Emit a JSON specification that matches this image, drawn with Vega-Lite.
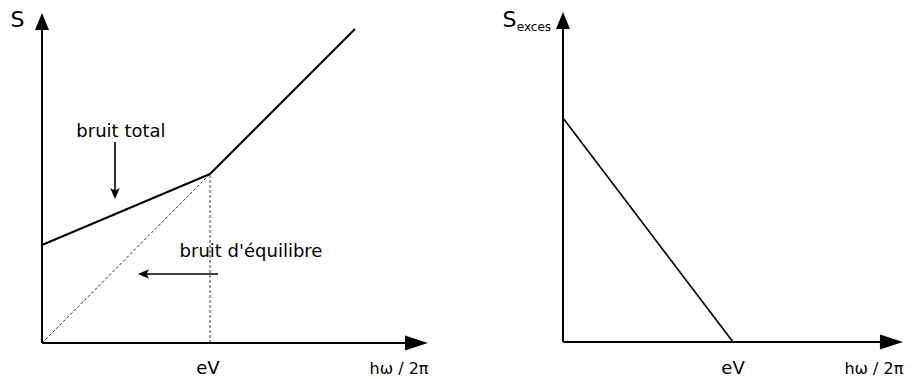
{
  "$schema": "https://vega.github.io/schema/vega-lite/v6.json",
  "width": 919,
  "height": 379,
  "padding": 0,
  "autosize": {"type": "none"},
  "background": "white",
  "config": {"view": {"stroke": null}, "text": {"font": "DejaVu Sans", "color": "black"}},
  "datasets": {
    "leftSegs": [
      {"kind": "axis", "x": 0, "y": 0, "x2": 2.161, "y2": 0},
      {"kind": "axis", "x": 0, "y": 0, "x2": 0, "y2": 1.852},
      {"kind": "curve", "x": 0, "y": 0.58, "x2": 1, "y2": 1},
      {"kind": "curve", "x": 1, "y": 1, "x2": 1.863, "y2": 1.858},
      {"kind": "guide", "x": 0, "y": 0, "x2": 1, "y2": 1},
      {"kind": "guide", "x": 1, "y": 0, "x2": 1, "y2": 1},
      {"kind": "pointer", "x": 0.4345, "y": 1.189, "x2": 0.4345, "y2": 0.885},
      {"kind": "pointer", "x": 1.048, "y": 0.408, "x2": 0.604, "y2": 0.408}
    ],
    "leftHeads": [
      {"head": "up", "x": 0, "y": 1.902},
      {"head": "right", "x": 2.229, "y": 0},
      {"head": "down", "x": 0.4345, "y": 0.885},
      {"head": "left", "x": 0.604, "y": 0.408}
    ],
    "leftText": [
      {"role": "title", "label": "S", "x": -0.146, "y": 1.911},
      {"role": "note", "label": "bruit total", "x": 0.47, "y": 1.249},
      {"role": "note", "label": "bruit d'équilibre", "x": 1.244, "y": 0.538},
      {"role": "note", "label": "eV", "x": 0.988, "y": -0.154},
      {"role": "unit", "label": "hω / 2π", "x": 2.125, "y": -0.154}
    ],
    "rightSegs": [
      {"kind": "axis", "x": 0, "y": 0, "x2": 1.865, "y2": 0},
      {"kind": "axis", "x": 0, "y": 0, "x2": 0, "y2": 1.397},
      {"kind": "curve", "x": 0, "y": 1, "x2": 1, "y2": 0}
    ],
    "rightHeads": [
      {"head": "up", "x": 0, "y": 1.435},
      {"head": "right", "x": 1.932, "y": 0}
    ],
    "rightText": [
      {"role": "title", "label": "S", "x": -0.315, "y": 1.4375},
      {"role": "sub", "label": "exces", "x": -0.171, "y": 1.405},
      {"role": "note", "label": "eV", "x": 1.0, "y": -0.1205},
      {"role": "unit", "label": "hω / 2π", "x": 1.829, "y": -0.1205}
    ]
  },
  "layer": [
    {
      "encoding": {
        "x": {"field": "x", "type": "quantitative", "axis": null, "scale": {"domain": [-0.25, 5.2202], "nice": false, "zero": false}},
        "y": {"field": "y", "type": "quantitative", "axis": null, "scale": {"domain": [-0.213, 2.0296], "nice": false, "zero": false}}
      },
      "layer": [
        {
          "data": {"name": "leftSegs"},
          "transform": [{"filter": "datum.kind == 'guide'"}],
          "mark": {"type": "rule", "color": "#333", "strokeWidth": 1, "strokeDash": [3, 2]},
          "encoding": {"x2": {"field": "x2"}, "y2": {"field": "y2"}}
        },
        {
          "data": {"name": "leftSegs"},
          "transform": [{"filter": "datum.kind == 'axis'"}],
          "mark": {"type": "rule", "color": "black", "strokeWidth": 2},
          "encoding": {"x2": {"field": "x2"}, "y2": {"field": "y2"}}
        },
        {
          "data": {"name": "leftSegs"},
          "transform": [{"filter": "datum.kind == 'curve'"}],
          "mark": {"type": "rule", "color": "black", "strokeWidth": 2},
          "encoding": {"x2": {"field": "x2"}, "y2": {"field": "y2"}}
        },
        {
          "data": {"name": "leftSegs"},
          "transform": [{"filter": "datum.kind == 'pointer'"}],
          "mark": {"type": "rule", "color": "black", "strokeWidth": 1.6},
          "encoding": {"x2": {"field": "x2"}, "y2": {"field": "y2"}}
        },
        {
          "data": {"name": "leftHeads"},
          "transform": [{"filter": "datum.head == 'up'"}],
          "mark": {"type": "point", "filled": true, "color": "black", "opacity": 1, "size": 324, "shape": "M0,-0.944L0.778,0.944L-0.778,0.944Z"}
        },
        {
          "data": {"name": "leftHeads"},
          "transform": [{"filter": "datum.head == 'right'"}],
          "mark": {"type": "point", "filled": true, "color": "black", "opacity": 1, "size": 576, "shape": "M0.958,0L-0.958,0.625L-0.958,-0.625Z"}
        },
        {
          "data": {"name": "leftHeads"},
          "transform": [{"filter": "datum.head == 'down'"}],
          "mark": {"type": "point", "filled": true, "color": "black", "opacity": 1, "size": 144, "shape": "M0,0.92L-0.8,-0.92L0,-0.5L0.8,-0.92Z"}
        },
        {
          "data": {"name": "leftHeads"},
          "transform": [{"filter": "datum.head == 'left'"}],
          "mark": {"type": "point", "filled": true, "color": "black", "opacity": 1, "size": 144, "shape": "M-0.92,0L0.92,-0.8L0.5,0L0.92,0.8Z"}
        },
        {
          "data": {"name": "leftText"},
          "transform": [{"filter": "datum.role == 'title'"}],
          "mark": {"type": "text", "fontSize": 22, "align": "center", "baseline": "middle"},
          "encoding": {"text": {"field": "label"}}
        },
        {
          "data": {"name": "leftText"},
          "transform": [{"filter": "datum.role == 'note'"}],
          "mark": {"type": "text", "fontSize": 18, "align": "center", "baseline": "middle"},
          "encoding": {"text": {"field": "label"}}
        },
        {
          "data": {"name": "leftText"},
          "transform": [{"filter": "datum.role == 'unit'"}],
          "mark": {"type": "text", "fontSize": 16, "align": "center", "baseline": "middle"},
          "encoding": {"text": {"field": "label"}}
        }
      ]
    },
    {
      "encoding": {
        "x": {"field": "x", "type": "quantitative", "axis": null, "scale": {"domain": [-3.3118, 2.0941], "nice": false, "zero": false}},
        "y": {"field": "y", "type": "quantitative", "axis": null, "scale": {"domain": [-0.1652, 1.5268], "nice": false, "zero": false}}
      },
      "layer": [
        {
          "data": {"name": "rightSegs"},
          "transform": [{"filter": "datum.kind == 'axis'"}],
          "mark": {"type": "rule", "color": "black", "strokeWidth": 2},
          "encoding": {"x2": {"field": "x2"}, "y2": {"field": "y2"}}
        },
        {
          "data": {"name": "rightSegs"},
          "transform": [{"filter": "datum.kind == 'curve'"}],
          "mark": {"type": "rule", "color": "black", "strokeWidth": 1.6},
          "encoding": {"x2": {"field": "x2"}, "y2": {"field": "y2"}}
        },
        {
          "data": {"name": "rightHeads"},
          "transform": [{"filter": "datum.head == 'up'"}],
          "mark": {"type": "point", "filled": true, "color": "black", "opacity": 1, "size": 324, "shape": "M0,-0.944L0.778,0.944L-0.778,0.944Z"}
        },
        {
          "data": {"name": "rightHeads"},
          "transform": [{"filter": "datum.head == 'right'"}],
          "mark": {"type": "point", "filled": true, "color": "black", "opacity": 1, "size": 576, "shape": "M0.958,0L-0.958,0.625L-0.958,-0.625Z"}
        },
        {
          "data": {"name": "rightText"},
          "transform": [{"filter": "datum.role == 'title'"}],
          "mark": {"type": "text", "fontSize": 22, "align": "center", "baseline": "middle"},
          "encoding": {"text": {"field": "label"}}
        },
        {
          "data": {"name": "rightText"},
          "transform": [{"filter": "datum.role == 'sub'"}],
          "mark": {"type": "text", "fontSize": 12, "align": "center", "baseline": "middle"},
          "encoding": {"text": {"field": "label"}}
        },
        {
          "data": {"name": "rightText"},
          "transform": [{"filter": "datum.role == 'note'"}],
          "mark": {"type": "text", "fontSize": 18, "align": "center", "baseline": "middle"},
          "encoding": {"text": {"field": "label"}}
        },
        {
          "data": {"name": "rightText"},
          "transform": [{"filter": "datum.role == 'unit'"}],
          "mark": {"type": "text", "fontSize": 16, "align": "center", "baseline": "middle"},
          "encoding": {"text": {"field": "label"}}
        }
      ]
    }
  ],
  "resolve": {"scale": {"x": "independent", "y": "independent"}}
}
